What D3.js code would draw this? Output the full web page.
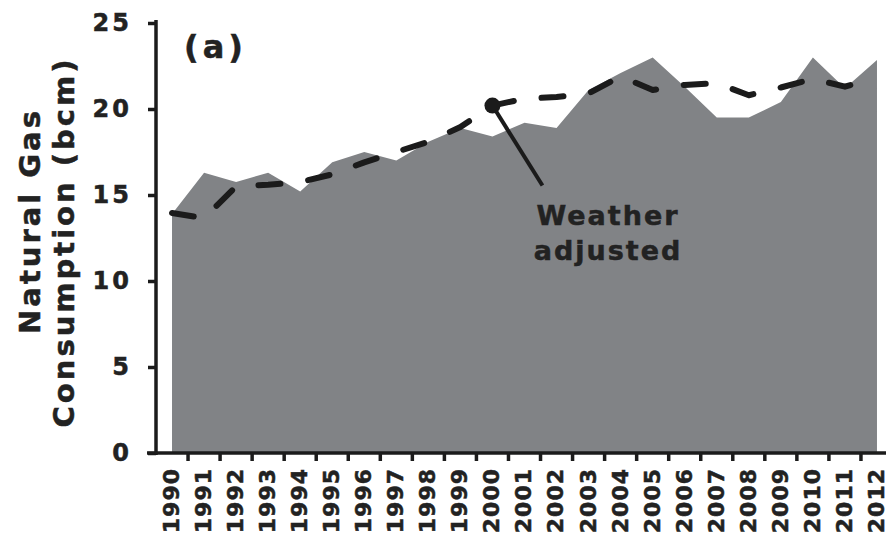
<!DOCTYPE html>
<html>
<head>
<meta charset="utf-8">
<script src="https://cdn.jsdelivr.net/npm/d3@7"></script>
<style>
  html, body { margin: 0; padding: 0; background: #fff; }
  svg { display: block; }
  text { font-family: "DejaVu Sans", Verdana, sans-serif; font-weight: bold; fill: #222; stroke: #222; stroke-width: 0.5px; }
</style>
</head>
<body>
<svg id="chart" width="886" height="539"></svg>
<script>
// Annual natural gas consumption (bcm), 1990–2012
const years = [1990, 1991, 1992, 1993, 1994, 1995, 1996, 1997, 1998, 1999, 2000, 2001,
               2002, 2003, 2004, 2005, 2006, 2007, 2008, 2009, 2010, 2011, 2012];
const actual = [13.9, 16.3, 15.75, 16.3, 15.2, 16.9, 17.5, 17.0, 18.1, 18.9, 18.4, 19.2,
                18.9, 21.1, 22.1, 23.0, 21.3, 19.5, 19.5, 20.4, 23.0, 21.2, 22.85];
const weatherAdjusted = [13.95, 13.65, 15.5, 15.6, 15.75, 16.2, 16.9, 17.5, 18.1, 18.95, 20.2, 20.6,
                         20.7, 20.9, 21.9, 21.1, 21.4, 21.5, 20.8, 21.25, 21.75, 21.3, 21.85];
const yTicks = [0, 5, 10, 15, 20, 25];
const panelLabel = "(a)";
const yTitle = ["Natural Gas", "Consumption (bcm)"];
const annotation = ["Weather", "adjusted"];
const annotatedYear = 2000;

const svg = d3.select("#chart");

const x = d3.scaleBand().domain(years).range([156, 893]).padding(0);
const y = d3.scaleLinear().domain([0, 25]).range([453, 23]);
const cx = d => x(d) + x.bandwidth() / 2;

// Shaded area: actual consumption
const area = d3.area()
  .x((d, i) => cx(years[i]))
  .y0(y(0))
  .y1(d => y(d));
svg.append("path")
  .datum(actual)
  .attr("d", area)
  .attr("fill", "#818386");

// Dashed line: weather-adjusted consumption
const line = d3.line()
  .x((d, i) => cx(years[i]))
  .y(d => y(d));
svg.append("path")
  .datum(weatherAdjusted)
  .attr("d", line)
  .attr("fill", "none")
  .attr("stroke", "#1b1b1b")
  .attr("stroke-width", 6)
  .attr("stroke-linecap", "round")
  .attr("stroke-linejoin", "round")
  .attr("stroke-dasharray", "22,28");

// Y axis
const yAxis = svg.append("g")
  .attr("transform", "translate(156,0)")
  .call(d3.axisLeft(y).tickValues(yTicks).tickSize(8).tickSizeOuter(0).tickPadding(16));
yAxis.select(".domain").attr("stroke", "#1b1b1b").attr("stroke-width", 3.5)
  .attr("d", `M0,${y(25) - 3}V${y(0) + 2}`);
yAxis.selectAll(".tick line").attr("stroke", "#1b1b1b").attr("stroke-width", 3.5);
yAxis.selectAll(".tick text")
  .style("font-size", "24px")
  .style("letter-spacing", "3px")
  .attr("fill", "#222");

// X axis: labels centred on each year, ticks at year boundaries
const xAxis = svg.append("g")
  .attr("transform", `translate(0,${y(0)})`)
  .call(d3.axisBottom(x).tickSize(0).tickSizeOuter(0));
xAxis.select(".domain").attr("stroke", "#1b1b1b").attr("stroke-width", 3.5)
  .attr("d", "M147,0H886");
xAxis.selectAll(".tick text")
  .attr("transform", "rotate(-90)")
  .attr("text-anchor", "end")
  .attr("x", -15)
  .attr("y", -1)
  .attr("dy", "0.36em")
  .style("font-size", "22px")
  .style("letter-spacing", "1px")
  .attr("fill", "#222");
svg.append("g")
  .selectAll("line")
  .data(years)
  .join("line")
  .attr("x1", d => x(d) + x.bandwidth())
  .attr("x2", d => x(d) + x.bandwidth())
  .attr("y1", y(0))
  .attr("y2", y(0) + 8)
  .attr("stroke", "#1b1b1b")
  .attr("stroke-width", 3.5);

// Y axis title (two lines)
const titleG = svg.append("g").attr("transform", "rotate(-90)");
titleG.selectAll("text")
  .data(yTitle)
  .join("text")
  .attr("x", (d, i) => i === 0 ? -221 : -242)
  .attr("y", (d, i) => 40 + i * 34)
  .attr("text-anchor", "middle")
  .style("font-size", "29px")
  .style("letter-spacing", "3px")
  .text(d => d);

// Panel label
svg.append("text")
  .attr("x", 184)
  .attr("y", 58)
  .style("font-size", "32px")
  .style("letter-spacing", "4px")
  .text(panelLabel);

// Annotation for the weather-adjusted series
const ai = years.indexOf(annotatedYear);
const px = cx(annotatedYear), py = y(weatherAdjusted[ai]);
svg.append("line")
  .attr("x1", px).attr("y1", py)
  .attr("x2", px + 50).attr("y2", py + 80)
  .attr("stroke", "#1b1b1b")
  .attr("stroke-width", 4);
svg.append("circle")
  .attr("cx", px).attr("cy", py).attr("r", 8)
  .attr("fill", "#1b1b1b");
svg.append("g").selectAll("text")
  .data(annotation)
  .join("text")
  .attr("x", 608)
  .attr("y", (d, i) => 225 + i * 35)
  .attr("text-anchor", "middle")
  .style("font-size", "27px")
  .style("letter-spacing", "2px")
  .text(d => d);
</script>
</body>
</html>
